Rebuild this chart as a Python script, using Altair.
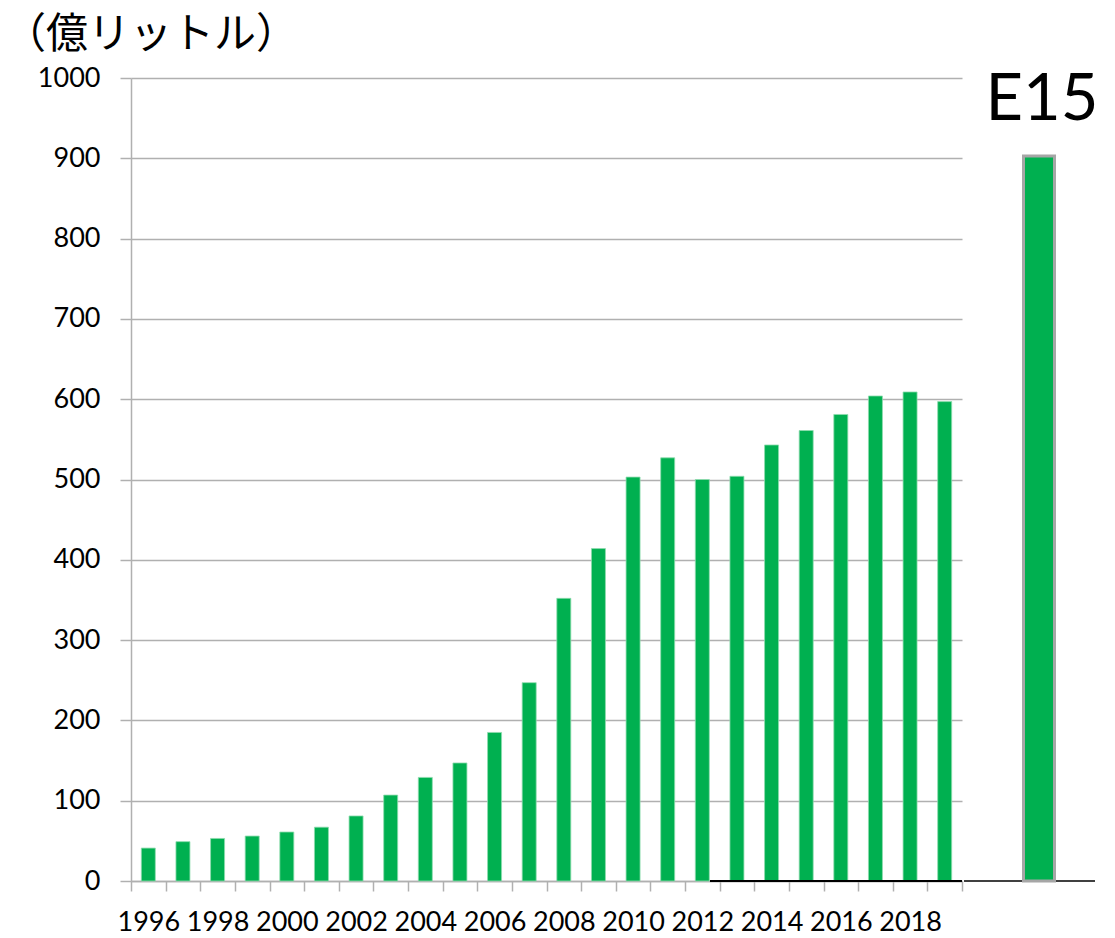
import altair as alt
import pandas as pd

# ---- data ----
years = [str(y) for y in range(1996, 2020)]
volumes = [41, 49, 53, 56, 61, 67, 81, 107, 129, 147, 185, 247,
           352, 414, 503, 527, 500, 504, 543, 561, 581, 604, 609, 597]
e15_names = ["E15"]
e15_values = [903]
unit_title = ["（億リットル）"]

GREEN = "#00b050"
GRID = "#b0b0b0"
LABEL_FONT = "Lato"

main_df = pd.DataFrame({"year": years, "volume": volumes})
e15_df = pd.DataFrame({"name": e15_names, "value": e15_values})
title_df = pd.DataFrame({"t": unit_title})

y_scale = alt.Scale(domain=[0, 1000], nice=False, zero=True)

bars = alt.Chart(main_df).mark_bar(
    color=GREEN, size=14, stroke="#8fdcae", strokeWidth=0.8
).encode(
    x=alt.X(
        "year:N",
        sort=years,
        title=None,
        scale=alt.Scale(paddingInner=0, paddingOuter=0),
        axis=alt.Axis(
            labelAngle=0,
            labelFont=LABEL_FONT,
            labelFontSize=27,
            labelColor="#000000",
            labelPadding=18,
            labelOverlap=False,
            labelExpr="toNumber(datum.value) % 2 == 0 ? datum.value : ''",
            tickBand="extent",
            tickSize=10,
            tickColor=GRID,
            tickWidth=1.5,
            domainColor=GRID,
            domainWidth=1.5,
            grid=False,
        ),
    ),
    y=alt.Y(
        "volume:Q",
        scale=y_scale,
        title=None,
        axis=alt.Axis(
            values=list(range(0, 1001, 100)),
            format="d",
            labelFont=LABEL_FONT,
            labelFontSize=27,
            labelColor="#000000",
            labelPadding=20,
            tickSize=11,
            tickColor=GRID,
            tickWidth=1.5,
            domainColor=GRID,
            domainWidth=1.5,
            gridColor=GRID,
            gridWidth=1.5,
        ),
    ),
)

black_base = alt.Chart(main_df).mark_rule(color="#000000", strokeWidth=1.5).encode(
    x=alt.value(579), x2=alt.value(831), y=alt.value(803)
)

title_text = alt.Chart(title_df).mark_text(
    font="Noto Sans CJK JP", fontSize=42, align="left", baseline="alphabetic",
    color="#000000"
).encode(x=alt.value(-127), y=alt.value(-30), text="t:N")

left = alt.layer(bars, black_base, title_text).properties(width=831, height=803)

e15_bar = alt.Chart(e15_df).mark_bar(
    color=GREEN, size=31, stroke="#a6a6a6", strokeWidth=3
).encode(
    x=alt.X("name:N", title=None, axis=None),
    y=alt.Y("value:Q", scale=y_scale, axis=None),
)

e15_text = alt.Chart(e15_df).mark_text(
    font=LABEL_FONT, fontSize=65, baseline="alphabetic", color="#000000", dx=3
).encode(
    x=alt.X("name:N", axis=None),
    y=alt.value(42),
    text="name:N",
)

e15_base = alt.Chart(e15_df).mark_rule(color="#000000", strokeWidth=1.5).encode(
    x=alt.value(0), x2=alt.value(131), y=alt.value(803)
)

right = alt.layer(e15_base, e15_bar, e15_text).properties(width=150, height=803)

chart = alt.hconcat(left, right, spacing=0).properties(
    padding={"left": 4, "top": 14, "right": 0, "bottom": 0},
    background="white",
).configure_view(strokeWidth=0, stroke="transparent")

chart.save("out.html", embed_options={"renderer": "svg", "actions": False})
